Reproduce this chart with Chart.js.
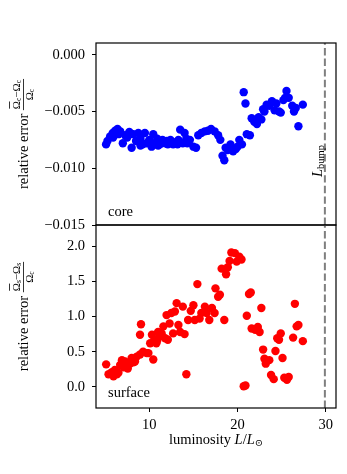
<!DOCTYPE html>
<html><head><meta charset="utf-8">
<script src="https://cdn.jsdelivr.net/npm/chart.js@4/dist/chart.umd.min.js"></script>
<style>
html,body{margin:0;padding:0;background:#fff;}
#wrap{position:relative;width:347px;height:474px;overflow:hidden;}
canvas{position:absolute;left:0;}
</style></head>
<body><div id="wrap"><canvas id="c1" width="347" height="245" style="top:0"></canvas><canvas id="c2" width="347" height="259" style="top:215px"></canvas></div>
<script>
// ---- data ----
const coreL = [5.1,5.26,5.56,5.86,6.13,6.4,6.7,7.0,7.26,7.74,8.0,8.2,8.5,8.76,9.0,9.25,9.5,9.7,10.0,10.26,10.45,10.6,10.9,11.2,11.5,11.8,12.1,12.4,12.7,13.0,13.3,13.5,13.8,14.0,14.3,14.6,15.0,15.3,15.55,15.9,16.3,16.65,17.0,17.4,17.8,18.05,18.3,18.5,18.65,18.9,19.2,19.5,19.8,20.0,20.2,20.5,20.7,20.9,21.05,21.4,21.6,21.9,22.2,22.4,22.7,22.9,23.05,23.3,23.6,23.9,24.2,24.4,24.7,24.9,25.2,25.4,25.55,25.8,26.2,26.4,26.6,26.9,27.4,5.9,6.5,7.5,9.0,11.0,12.0,13.2,14.2];
const coreErr = [-0.0079,-0.0076,-0.0072,-0.0069,-0.0067,-0.00655,-0.00675,-0.0078,-0.0071,-0.0068,-0.0082,-0.0070,-0.0076,-0.0069,-0.0074,-0.0079,-0.0069,-0.0078,-0.0075,-0.0081,-0.0070,-0.0078,-0.0074,-0.0079,-0.0075,-0.0078,-0.0079,-0.0075,-0.0079,-0.0077,-0.0075,-0.0066,-0.0078,-0.0069,-0.0078,-0.0075,-0.0081,-0.0082,-0.0071,-0.0069,-0.00675,-0.0067,-0.00655,-0.00675,-0.0071,-0.0075,-0.0089,-0.0093,-0.0082,-0.0084,-0.0079,-0.0085,-0.0083,-0.0081,-0.0075,-0.0079,-0.0033,-0.0043,-0.0070,-0.0071,-0.0056,-0.0059,-0.0061,-0.0055,-0.0057,-0.0048,-0.0050,-0.0044,-0.0045,-0.0041,-0.0049,-0.0043,-0.0050,-0.0051,-0.0040,-0.0038,-0.0032,-0.0038,-0.0045,-0.0050,-0.0047,-0.0063,-0.0044,-0.0073,-0.0070,-0.0073,-0.0080,-0.0080,-0.0076,-0.0079,-0.0074];
const surfL = [5.11,5.38,5.75,5.94,6.32,6.1,6.7,6.9,7.26,7.56,7.8,8.0,8.38,8.57,8.95,9.3,9.7,9.06,8.95,9.9,10.1,10.45,10.3,10.6,10.8,11.0,11.4,11.6,11.8,11.96,12.1,12.3,12.5,12.7,12.9,13.1,13.3,13.5,13.8,14.0,14.2,14.4,14.7,15.0,15.15,15.45,15.7,15.9,16.3,16.5,16.8,17.1,17.4,17.5,17.8,18.0,18.2,18.5,18.7,18.9,19.1,19.3,19.7,19.9,20.2,20.45,20.7,20.9,21.05,21.3,21.5,21.6,22.0,22.3,22.5,22.7,22.9,23.05,23.2,23.6,23.8,24.1,24.3,24.5,24.7,24.9,25.1,25.3,25.6,25.8,26.3,26.5,26.7,26.9,27.4,6.5,7.1,8.2,10.9,11.2];
const surfErr = [0.32,0.18,0.21,0.15,0.18,0.24,0.31,0.38,0.36,0.26,0.33,0.41,0.36,0.43,0.46,0.50,0.48,0.89,0.74,0.48,0.62,0.39,0.74,0.67,0.62,0.78,0.76,0.86,0.69,1.02,0.67,0.90,1.05,0.76,1.07,1.19,0.88,0.78,1.14,0.75,0.18,0.95,1.08,1.16,0.95,1.46,0.97,1.05,1.14,1.05,0.95,1.12,1.05,1.40,1.28,1.31,1.68,0.95,1.60,1.70,1.79,1.91,1.90,1.78,1.85,1.81,0.01,0.02,1.01,1.32,1.34,0.83,0.81,0.85,0.78,1.12,0.53,0.40,0.33,0.38,0.17,0.11,0.51,0.69,0.67,0.76,0.41,0.13,0.10,0.14,0.70,1.18,0.86,0.88,0.65,0.20,0.28,0.35,0.66,0.72];
const bumpL = 29.9;
const xTicks = [10, 20, 30];
const coreTicks = [0, -0.005, -0.010, -0.015];
const surfTicks = [0, 0.5, 1.0, 1.5, 2.0];
const xRange = [3.96, 31.16];
const coreRange = [-0.015, 0.00103];
const surfRange = [-0.30, 2.30];

const SERIF = '"Liberation Serif", "DejaVu Serif", serif';
const fnt = (s, it) => (it ? 'italic ' : '') + s + 'px ' + SERIF;
const TXT = 14.5;

function pts(xs, ys){ return xs.map((x,i)=>({x:x,y:ys[i]})); }

function segWidth(ctx, segs){ let w=0; segs.forEach(s=>{ctx.font=s.f; w+=ctx.measureText(s.t).width;}); return w; }
function drawSegs(ctx, segs, x, y){
  let cx=x;
  segs.forEach(s=>{
    ctx.font=s.f; const w=ctx.measureText(s.t).width;
    ctx.fillText(s.t, cx, y+(s.dy||0));
    if(s.over){ ctx.beginPath(); ctx.lineWidth=0.8; ctx.moveTo(cx+0.5, y-7.5); ctx.lineTo(cx+w-0.5, y-7.5); ctx.stroke(); }
    cx+=w;
  });
  return cx;
}
function yLabel(ctx, cy, sub){
  ctx.save();
  ctx.fillStyle='#000'; ctx.strokeStyle='#000';
  ctx.translate(23, cy); ctx.rotate(-Math.PI/2);
  ctx.textBaseline='middle'; ctx.textAlign='left';
  const first=[{t:'relative error ', f:fnt(TXT)}];
  const num=[{t:'\u03A9',f:fnt(11),over:true},{t:sub,f:fnt(7.5),dy:2.5},{t:'\u2212',f:fnt(11)},{t:'\u03A9',f:fnt(11)},{t:sub,f:fnt(7.5),dy:2.5}];
  const den=[{t:'\u03A9',f:fnt(11)},{t:'c',f:fnt(7.5),dy:2.5}];
  const w1=segWidth(ctx,first), wn=segWidth(ctx,num), wd=segWidth(ctx,den);
  const fw=Math.max(wn,wd)+2;
  const W=w1+fw; let x0=-W/2;
  drawSegs(ctx, first, x0, 1);
  const fx=x0+w1;
  drawSegs(ctx, num, fx+(fw-wn)/2, -6);
  ctx.beginPath(); ctx.lineWidth=0.8; ctx.moveTo(fx, 0.5); ctx.lineTo(fx+fw, 0.5); ctx.stroke();
  drawSegs(ctx, den, fx+(fw-wd)/2, 7);
  ctx.restore();
}

function framePlugin(kind){
  return {
    id:'frame'+kind,
    afterDraw(chart){
      const ctx=chart.ctx, a=chart.chartArea;
      ctx.save();
      ctx.strokeStyle='#000'; ctx.lineWidth=1.2;
      ctx.strokeRect(a.left, a.top, a.right-a.left, a.bottom-a.top);
      ctx.fillStyle='#000'; ctx.textBaseline='middle'; ctx.textAlign='left';
      const cy=(a.top+a.bottom)/2;
      if(kind==='core'){
        ctx.font=fnt(TXT); ctx.fillText('core', 108, 212);
        yLabel(ctx, cy, 'c');
        ctx.save();
        ctx.translate(318, 161); ctx.rotate(-Math.PI/2);
        const segs=[{t:'L',f:fnt(TXT,true)},{t:'bump',f:fnt(10.5),dy:3.5}];
        const w=segWidth(ctx,segs);
        drawSegs(ctx, segs, -w/2, 0);
        ctx.restore();
      } else {
        ctx.font=fnt(TXT); ctx.fillText('surface', 108, 393-215);
        yLabel(ctx, cy, 's');
        const segs=[{t:'luminosity ',f:fnt(TXT)},{t:'L',f:fnt(TXT,true)},{t:'/',f:fnt(TXT)},{t:'L',f:fnt(TXT,true)},{t:'\u2299',f:fnt(10),dy:3.5}];
        const w=segWidth(ctx,segs);
        drawSegs(ctx, segs, (a.left+a.right)/2 - w/2, 440-215);
      }
      ctx.restore();
    }
  };
}

function bumpData(r){ return [{x:bumpL,y:r[0]},{x:bumpL,y:r[1]}]; }

function noPad(s){ s.paddingTop=0; s.paddingBottom=0; s.paddingLeft=0; s.paddingRight=0; }

function yScale(range, ticks, fmt){
  return {
    type:'linear', min:range[0], max:range[1],
    afterBuildTicks(s){ s.ticks = ticks.map(v=>({value:v})); },
    afterFit(s){ s.width = 96; noPad(s); },
    ticks:{ callback:(v)=>fmt(v), color:'#000', font:{family:SERIF, size:TXT}, padding:7 },
    grid:{ display:true, drawOnChartArea:false, tickLength:4, tickWidth:1, color:'#000' },
    border:{ display:false }
  };
}
const minus = s => s.replace('-', '\u2212');

Chart.defaults.animation=false;

new Chart(document.getElementById('c1'), {
  type:'scatter',
  data:{ datasets:[
    { data:pts(coreL, coreErr), backgroundColor:'#0000ff', borderWidth:0, pointRadius:4.2, pointHoverRadius:4.2 },
    { type:'line', data:bumpData(coreRange), borderColor:'#7f7f7f', borderWidth:2, borderDash:[7.4,3.2], pointRadius:0, showLine:true, fill:false }
  ]},
  options:{
    responsive:false, devicePixelRatio:1, animation:false,
    layout:{ padding:{ top:43, right:11, left:0, bottom:0 } },
    plugins:{ legend:{display:false}, tooltip:{enabled:false} },
    scales:{
      x:{ type:'linear', min:xRange[0], max:xRange[1], ticks:{display:false}, grid:{display:false}, border:{display:false}, afterFit(s){ s.height=20; noPad(s); } },
      y: yScale(coreRange, coreTicks, v=>minus(v.toFixed(3)))
    }
  },
  plugins:[framePlugin('core')]
});

new Chart(document.getElementById('c2'), {
  type:'scatter',
  data:{ datasets:[
    { data:pts(surfL, surfErr), backgroundColor:'#ff0000', borderWidth:0, pointRadius:4.2, pointHoverRadius:4.2 },
    { type:'line', data:bumpData(surfRange), borderColor:'#7f7f7f', borderWidth:2, borderDash:[7.4,3.2], pointRadius:0, showLine:true, fill:false }
  ]},
  options:{
    responsive:false, devicePixelRatio:1, animation:false,
    layout:{ padding:{ top:10, right:11, left:0, bottom:0 } },
    plugins:{ legend:{display:false}, tooltip:{enabled:false} },
    scales:{
      x:{ type:'linear', min:xRange[0], max:xRange[1],
        afterBuildTicks(s){ s.ticks = xTicks.map(v=>({value:v})); },
        afterFit(s){ s.height=66; noPad(s); },
        ticks:{ color:'#000', font:{family:SERIF, size:TXT}, padding:4, maxRotation:0 },
        grid:{ display:true, drawOnChartArea:false, tickLength:4, tickWidth:1, color:'#000' },
        border:{ display:false } },
      y: yScale(surfRange, surfTicks, v=>minus(v.toFixed(1)))
    }
  },
  plugins:[framePlugin('surf')]
});
</script>
</body></html>
